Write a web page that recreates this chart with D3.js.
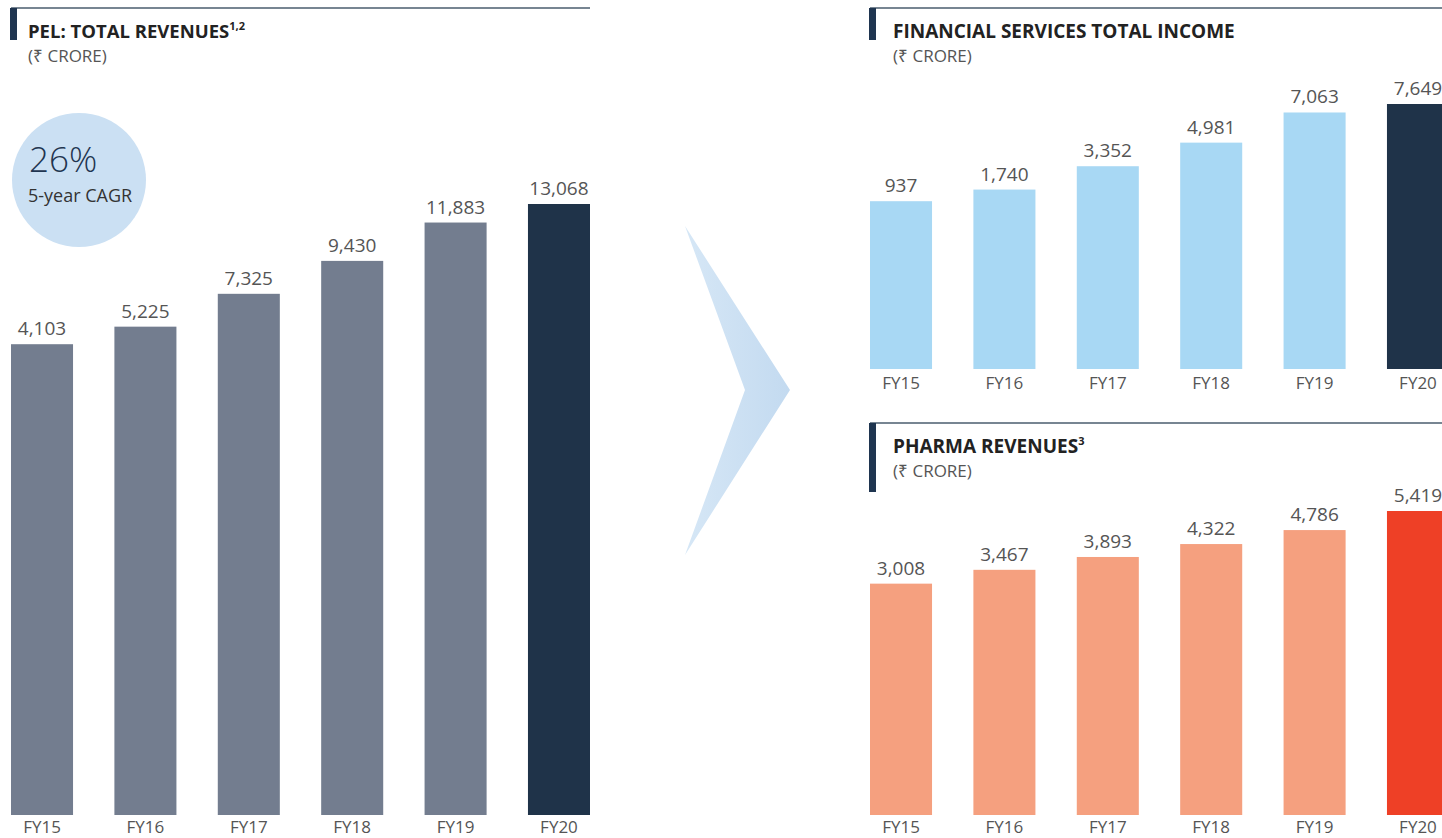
<!DOCTYPE html>
<html><head><meta charset="utf-8">
<script src="https://cdn.jsdelivr.net/npm/d3@7"></script>
<style>
body{margin:0;background:#fff;}
svg{display:block;font-family:"Open Sans",sans-serif;}
</style></head>
<body>
<svg id="c" width="1442" height="838"></svg>
<script>
const categories = ["FY15","FY16","FY17","FY18","FY19","FY20"];
const pelValues = [4103, 5225, 7325, 9430, 11883, 13068];
const finValues = [937, 1740, 3352, 4981, 7063, 7649];
const pharmaValues = [3008, 3467, 3893, 4322, 4786, 5419];
const cagrText = "26%";
const cagrLabel = "5-year CAGR";

const svg = d3.select("#c");
const fmt = d3.format(",");

function panel(opts){
  const g = svg.append("g");
  g.append("line").attr("x1",opts.x0).attr("x2",opts.lineEnd).attr("y1",opts.top).attr("y2",opts.top)
    .attr("stroke","#4a5c6e").attr("stroke-width",1.5);
  g.append("rect").attr("x",opts.x0-1).attr("y",opts.top).attr("width",7).attr("height",opts.accentH).attr("fill","#1f3550");
  const t = g.append("text").attr("x",opts.tx).attr("y",opts.top+30)
    .attr("font-size",opts.tsize).attr("font-weight",700).attr("fill","#222").text(opts.title);
  if(opts.sup) t.append("tspan").attr("font-size",11).attr("dy",-8).text(opts.sup);
  g.append("text").attr("x",opts.tx).attr("y",opts.top+54).attr("font-size",17).attr("fill","#555").text("(₹ CRORE)");

  const x = d3.scaleBand().domain(categories).range(opts.xRange).paddingInner(0.4).paddingOuter(0);
  const y = d3.scaleLinear().domain(opts.yDomain).range([opts.base, opts.yTop]);
  g.selectAll("rect.bar").data(opts.values).join("rect").attr("class","bar")
    .attr("x",(d,i)=>x(categories[i])).attr("width",x.bandwidth())
    .attr("y",d=>y(d)).attr("height",d=>opts.base-y(d))
    .attr("fill",(d,i)=> i===categories.length-1 ? opts.last : opts.color);
  g.selectAll("text.val").data(opts.values).join("text").attr("class","val")
    .attr("x",(d,i)=>x(categories[i])+x.bandwidth()/2).attr("y",d=>y(d)-9)
    .attr("text-anchor","middle").attr("font-size",19).attr("fill","#555").text(d=>fmt(d));
  const ax = g.append("g").attr("transform",`translate(0,${opts.base})`)
    .call(d3.axisBottom(x).tickSize(0).tickPadding(opts.tickPad));
  ax.select(".domain").remove();
  ax.selectAll("text").attr("font-size",17).attr("fill","#555").attr("font-family","Open Sans, sans-serif");
}

panel({x0:11, lineEnd:590, top:8, accentH:32, tx:28, tsize:18.5, title:"PEL: TOTAL REVENUES", sup:"1,2",
  xRange:[11,590], yDomain:[-26000,13068], base:815, yTop:204, values:pelValues,
  color:"#737d8f", last:"#1f3349", tickPad:6});
panel({x0:870, lineEnd:1442, top:8, accentH:32, tx:893, tsize:19, title:"FINANCIAL SERVICES TOTAL INCOME", sup:null,
  xRange:[870,1449], yDomain:[-10650,7649], base:369, yTop:104, values:finValues,
  color:"#a8d8f4", last:"#1f3349", tickPad:8});
panel({x0:870, lineEnd:1442, top:423, accentH:69, tx:893, tsize:19, title:"PHARMA REVENUES", sup:"3",
  xRange:[870,1449], yDomain:[-4670,5419], base:815, yTop:511, values:pharmaValues,
  color:"#f5a07f", last:"#ee4026", tickPad:6});

svg.append("circle").attr("cx",79).attr("cy",180).attr("r",67).attr("fill","#cbe0f3");
svg.append("text").attr("x",29).attr("y",172).attr("font-size",35).attr("fill","#1f3550").attr("font-weight",300).text(cagrText);
svg.append("text").attr("x",28).attr("y",202).attr("font-size",18).attr("fill","#333").text(cagrLabel);

const defs = svg.append("defs");
const gr = defs.append("linearGradient").attr("id","ag").attr("x1","0").attr("x2","1").attr("y1","0").attr("y2","0");
gr.append("stop").attr("offset","0").attr("stop-color","#d6e7f6");
gr.append("stop").attr("offset","1").attr("stop-color","#c3daf0");
svg.append("path").attr("d","M685,226 L790,390 L685,555 L745,390 Z").attr("fill","url(#ag)");
</script>
</body></html>
